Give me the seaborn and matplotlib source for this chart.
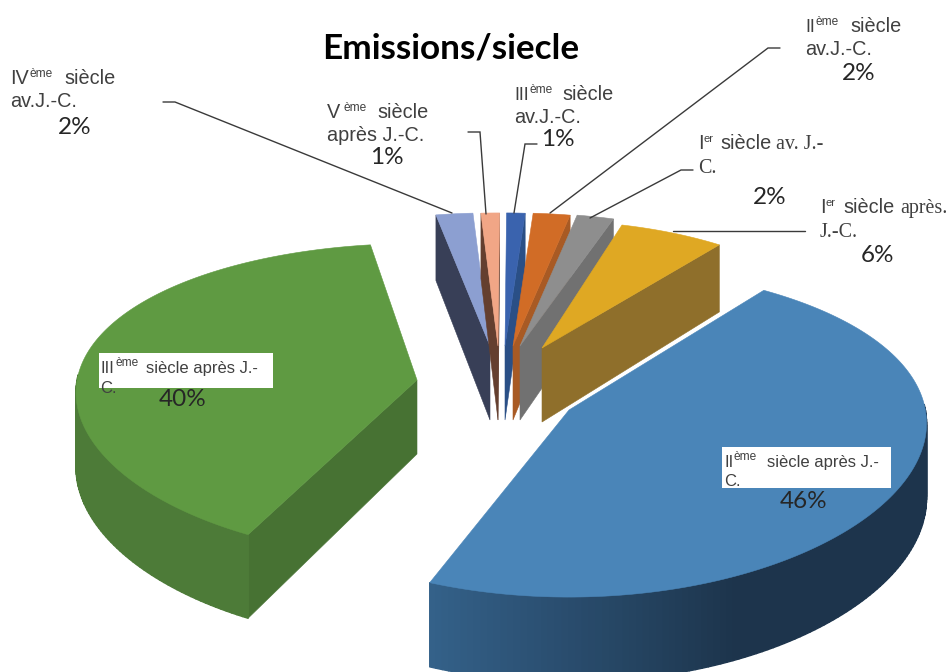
import numpy as np
import pandas as pd
import matplotlib
matplotlib.use("Agg")
import matplotlib.pyplot as plt
from matplotlib.collections import PolyCollection
from matplotlib.colors import to_rgb
from matplotlib.patches import Polygon, Rectangle
import seaborn as sns

# Emissions per century, listed clockwise around the pie
siecles = ["IV av", "V ap", "III av", "II av", "I av", "I ap", "II ap", "III ap"]
parts = [2, 1, 1, 2, 2, 6, 46, 40]

# Colours of the top faces, the cut faces and the rim
couleurs_dessus = ["#8c9fd1", "#f1a686", "#3a63ae", "#d16c26", "#8e8e8e", "#dfa823", "#4a85b8", "#5f9a42"]
couleurs_coupe = ["#383f57", "#643f2f", "#2a4f86", "#a85a24", "#717171", "#8f6f2b", "#1d344c", "#477233"]
couleurs_bord = ["#383f57", "#643f2f", "#2a4f86", "#a85a24", "#717171", "#8f6f2b", "#1d344c", "#4d7b38"]

# Pie geometry in pixel units of the axes
ANGLE_DEPART = 100.5
RAYON_X, RAYON_Y, EPAISSEUR = 330.0, 155.0, 74.0
PERSP_X, PERSP_Y = 0.08, 0.13
pointes_x = [490, 498, 505, 513, 520, 542, 569, 417]
pointes_y = [346, 346, 346, 346, 346, 348, 410, 380]
echelles_x = [0.97, 0.97, 0.97, 0.97, 0.97, 0.93, 1.08, 1.03]
echelles_y = [0.97, 0.97, 0.97, 0.97, 0.97, 0.93, 1.05, 0.995]
# The exploded slices turn a little as they move away from the centre
rotations = [0, 0, 0, 0, 0, 2.0, 4.3, -2.0]
ORDRE_DESSIN = [0, 1, 2, 3, 4, 5, 7, 6]

sns.set_theme(style="white")
plt.rcParams["font.family"] = ["Liberation Sans", "DejaVu Sans"]

donnees = pd.DataFrame({"siecle": siecles, "part": parts, "rotation": rotations,
                        "tx": pointes_x, "ty": pointes_y,
                        "ex": echelles_x, "ey": echelles_y})
donnees["balayage"] = donnees["part"] / donnees["part"].sum() * 360.0
donnees["haut"] = ANGLE_DEPART - donnees["balayage"].cumsum().shift(fill_value=0.0) + donnees["rotation"]
donnees["bas"] = donnees["haut"] - donnees["balayage"]

fig = plt.figure(figsize=(9.51, 6.72), dpi=100, facecolor="white")
ax = fig.add_axes([0, 0, 1, 1])
ax.set_xlim(0, 951)
ax.set_ylim(672, 0)
ax.axis("off")


def projeter(tranche, angle_deg):
    """Return the top and bottom screen points of a rim position."""
    t = np.radians(angle_deg)
    wx = 1.0 + PERSP_X * np.sin(t)
    wy = 1.0 + PERSP_Y * np.sin(t)
    x = tranche.tx + tranche.ex * RAYON_X * np.cos(t) / wx
    y = tranche.ty - tranche.ey * RAYON_Y * np.sin(t) / wy
    return np.column_stack([x, y]), np.column_stack([x, y + EPAISSEUR / wy])


def dessiner_tranche(i):
    tranche = donnees.iloc[i]
    angles = np.linspace(tranche.bas, tranche.haut, max(int(tranche.balayage), 6))
    dessus, dessous = projeter(tranche, angles)
    pointe = np.array([tranche.tx, tranche.ty])
    pointe_bas = pointe + [0, EPAISSEUR]

    # Cut faces that turn towards the viewer
    if np.cos(np.radians(tranche.haut)) < 0:
        ax.add_patch(Polygon([pointe, dessus[-1], dessous[-1], pointe_bas],
                             fc=couleurs_coupe[i], ec=couleurs_coupe[i], lw=0.4, zorder=i * 3))
    if np.cos(np.radians(tranche.bas)) > 0:
        ax.add_patch(Polygon([pointe, dessus[0], dessous[0], pointe_bas],
                             fc=couleurs_coupe[i], ec=couleurs_coupe[i], lw=0.4, zorder=i * 3))

    # Front rim, with the blue slice fading from its lit side to its dark side
    quads, teintes = [], []
    avant = np.sin(np.radians(angles)) < 0.02
    degrade = sns.dark_palette("#34628a", n_colors=40)
    for k in range(len(angles) - 1):
        if avant[k] or avant[k + 1]:
            quads.append([dessus[k], dessus[k + 1], dessous[k + 1], dessous[k]])
            if siecles[i] == "II ap":
                a = angles[k] % 360.0
                a = a + 360.0 if a < 180.0 else a
                frac = np.clip((295.0 - a) / 47.0, 0.0, 1.0)
                base, clair = np.array(to_rgb(couleurs_bord[i])), np.array(degrade[-1])
                teintes.append(tuple(base + (clair - base) * frac))
            else:
                teintes.append(couleurs_bord[i])
    if quads:
        ax.add_collection(PolyCollection(quads, facecolors=teintes, edgecolors=teintes,
                                         linewidths=1.0, zorder=i * 3 + 1))

    # Top face
    ax.add_patch(Polygon(np.vstack([pointe, dessus]), fc=couleurs_dessus[i],
                         ec=couleurs_dessus[i], lw=0.4, zorder=i * 3 + 2))


for i in ORDRE_DESSIN:
    dessiner_tranche(i)

Z_TEXTE = 50


def ligne(xs, ys):
    ax.plot(xs, ys, color="#3a3a3a", lw=1.0, solid_joinstyle="miter", zorder=Z_TEXTE)


ligne([163, 175, 452], [102, 102, 213])
ligne([468, 480, 486], [132, 132, 214])
ligne([537, 525, 514], [144, 144, 213])
ligne([780, 768, 550], [48, 48, 213])
ligne([693, 681, 590], [170, 170, 218])
ligne([805, 673], [231, 231])

COULEUR_TEXTE = "#404040"
CORPS = 14.3
CORPS_CADRE = 12.0
ECARTS_SUP = {"I": 6, "II": 10, "III": 15, "IV": 19, "V": 16}


def texte(x, y, s, taille=CORPS, famille="Liberation Sans"):
    return ax.text(x, y, s, fontsize=taille, family=famille, color=COULEUR_TEXTE,
                   va="baseline", ha="left", zorder=Z_TEXTE + 2)


def etiquette(x, y, chiffre, sup, x_mot, mot, taille=CORPS, suite=None, x_suite=None):
    """First line of a label: numeral, raised suffix, then the word."""
    texte(x, y, chiffre, taille=min(taille, 12.9) if chiffre in ("II", "III") else taille)
    texte(x + ECARTS_SUP[chiffre], y - 7, sup, taille=8.6 if sup != "er" else 8.0)
    texte(x_mot, y, mot, taille=taille)
    if suite:
        texte(x_suite, y, suite, taille=14.4, famille="Liberation Serif")


def pourcent(xc, yc, valeur, taille=17.5):
    ax.text(xc, yc, f"{valeur}%", fontsize=taille, family="Lato", color="#262626",
            ha="center", va="center", zorder=Z_TEXTE + 2)


# White boxes behind the labels of the two large slices
ax.add_patch(Rectangle((99, 353), 174, 35, fc="white", ec="none", zorder=Z_TEXTE + 1))
ax.add_patch(Rectangle((722, 447), 169, 41, fc="white", ec="none", zorder=Z_TEXTE + 1))

etiquette(10, 84, "IV", "ème", 64, "siècle")
texte(10, 107, "av.J.-C.")
pourcent(75, 128, parts[0])

etiquette(327, 118, "V", "ème", 377, "siècle")
texte(327, 141, "après J.-C.")
pourcent(387, 157, parts[1])

etiquette(514, 100, "III", "ème", 562, "siècle")
texte(514, 123, "av.J.-C.")
pourcent(558, 139, parts[2])

etiquette(805, 32, "II", "ème", 850, "siècle")
texte(805, 55, "av.J.-C.")
pourcent(859, 74, parts[3])

etiquette(698, 149, "I", "er", 720, "siècle", suite="av. J.-", x_suite=776)
texte(698, 173, "C.", taille=14.4, famille="Liberation Serif")
pourcent(770, 197, parts[4])

etiquette(820, 213, "I", "er", 843, "siècle", suite="après.", x_suite=900)
texte(820, 237, "J.-C.", taille=14.4, famille="Liberation Serif")
pourcent(878, 256, parts[5])

etiquette(100, 373, "III", "ème", 146, "siècle après J.-", taille=CORPS_CADRE)
texte(100, 393, "C.", taille=CORPS_CADRE)
pourcent(183, 400, parts[7])

etiquette(724, 467, "II", "ème", 767, "siècle après J.-", taille=CORPS_CADRE)
texte(724, 486, "C.", taille=CORPS_CADRE)
pourcent(804, 501, parts[6])

ax.text(450.5, 48, "Emissions/siecle", fontsize=25.3, fontweight="bold", family="Lato",
        color="black", ha="center", va="center", zorder=Z_TEXTE + 2)

fig.savefig("out.png", dpi=100, facecolor="white")
